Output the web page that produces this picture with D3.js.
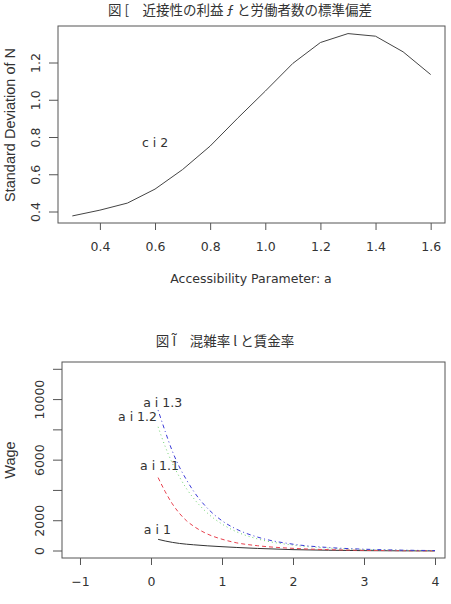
<!DOCTYPE html>
<html><head><meta charset="utf-8">
<script src="https://cdn.jsdelivr.net/npm/d3@7"></script>
<style>body{margin:0;background:#fff}svg{display:block}text{fill:#333}</style>
</head><body>
<script>
// ---- Figure I data ----
const accessA = [0.3,0.4,0.5,0.6,0.7,0.8,0.9,1.0,1.1,1.2,1.3,1.4,1.5,1.6];
const sdN     = [0.379,0.41,0.448,0.523,0.628,0.754,0.904,1.049,1.198,1.31,1.358,1.344,1.26,1.138];
const sdTicks = [0.4,0.6,0.8,1.0,1.2];
const accTicks = [0.4,0.6,0.8,1.0,1.2,1.4,1.6];
const title1 = "図 [　近接性の利益 ƒ と労働者数の標準偏差";
const note1 = {text:"c i 2", x:0.6, y:0.77};

// ---- Figure II data ----
const congestion = [0.1,0.2,0.3,0.4,0.5,0.6,0.8,1.0,1.2,1.5,2.0,2.5,3.0,3.5,4.0];
const wageA10 = [770,660,570,500,450,410,340,285,235,170,90,50,25,12,6];
const wageA11 = [4850,3920,3120,2490,2000,1640,1110,780,545,350,175,90,45,22,11];
const wageA12 = [8200,6900,5800,4900,4120,3480,2480,1780,1280,800,390,195,100,50,25];
const wageA13 = [9300,7900,6600,5550,4700,3950,2800,2000,1450,920,450,230,120,60,30];
const seriesNames = ["a i 1","a i 1.1","a i 1.2","a i 1.3"];
const labelX = [0.09,0.12,-0.19,0.165];
const labelY = [1387,5548,8784,9774];
const wageTicks = [0,2000,4000,6000,8000,10000,12000];
const wageLabels = [0,2000,6000,10000];
const congTicks = [-1,0,1,2,3,4];
const title2 = "図 Ĩ　混雑率 l と賃金率";

const W=451,H=604;
const svg=d3.select("body").append("svg").attr("width",W).attr("height",H);
const font="DejaVu Sans, sans-serif";
const sans="Liberation Sans, Arial, sans-serif";
const cjk="'Noto Sans CJK JP', sans-serif";
const axisCol="#555";

// ===== Plot 1 =====
const x1=d3.scaleLinear().domain([0.248,1.652]).range([58,445]);
const y1=d3.scaleLinear().domain([0.341,1.3987]).range([223,26]);
const g1=svg.append("g");
g1.append("rect").attr("x",58).attr("y",26).attr("width",387).attr("height",197)
  .attr("fill","none").attr("stroke",axisCol).attr("stroke-width",1);
const xa1=g1.append("g").attr("transform","translate(0,223)")
  .call(d3.axisBottom(x1).tickValues(accTicks).tickFormat(d3.format(".1f")).tickSize(7).tickPadding(12));
const ya1=g1.append("g").attr("transform","translate(58,0)")
  .call(d3.axisLeft(y1).tickValues(sdTicks).tickFormat(d3.format(".1f")).tickSize(9).tickPadding(0));
[xa1,ya1].forEach(a=>{a.select(".domain").remove();a.selectAll("line").attr("stroke",axisCol);
  a.selectAll("text").attr("font-family",font).attr("font-size",12.5).attr("fill","#333");});
ya1.selectAll(".tick").attr("transform",null);
ya1.selectAll(".tick line").attr("transform",d=>`translate(0,${y1(d)})`);
ya1.selectAll(".tick text").attr("text-anchor","middle").attr("x",0).attr("y",0).attr("dy",0)
  .attr("dominant-baseline","middle").attr("transform",d=>`translate(-22,${y1(d)}) rotate(-90)`);
g1.append("path").datum(accessA.map((a,i)=>[a,sdN[i]]))
  .attr("d",d3.line().x(d=>x1(d[0])).y(d=>y1(d[1])))
  .attr("fill","none").attr("stroke","#444").attr("stroke-width",1);
g1.append("text").attr("x",x1(note1.x)).attr("y",y1(note1.y)).attr("text-anchor","middle")
  .attr("dominant-baseline","middle").attr("font-family",font).attr("font-size",12.5).text(note1.text);
g1.append("text").attr("x",251).attr("y",283).attr("text-anchor","middle")
  .attr("font-family",font).attr("font-size",12.5).text("Accessibility Parameter: a");
g1.append("text").attr("transform","translate(15,125) rotate(-90)").attr("text-anchor","middle")
  .attr("font-family",sans).attr("font-size",14.5).text("Standard Deviation of N");
g1.append("text").attr("x",240).attr("y",15).attr("text-anchor","middle")
  .attr("font-family",cjk).attr("font-size",13.5).text(title1);

// ===== Plot 2 =====
const x2=d3.scaleLinear().domain([-1.2535,4.1408]).range([62,445]);
const y2=d3.scaleLinear().domain([-462,12482]).range([558,362]);
const g2=svg.append("g");
g2.append("rect").attr("x",62).attr("y",362).attr("width",383).attr("height",196)
  .attr("fill","none").attr("stroke",axisCol).attr("stroke-width",1);
const xa2=g2.append("g").attr("transform","translate(0,558)")
  .call(d3.axisBottom(x2).tickValues(congTicks).tickFormat(d=>d<0?"\u2212"+Math.abs(d):d).tickSize(7).tickPadding(12));
const ya2=g2.append("g").attr("transform","translate(62,0)")
  .call(d3.axisLeft(y2).tickValues(wageTicks).tickFormat(d=>wageLabels.includes(d)?d:"").tickSize(9).tickPadding(0));
[xa2,ya2].forEach(a=>{a.select(".domain").remove();a.selectAll("line").attr("stroke",axisCol);
  a.selectAll("text").attr("font-family",font).attr("font-size",12.5).attr("fill","#333");});
ya2.selectAll(".tick").attr("transform",null);
ya2.selectAll(".tick line").attr("transform",d=>`translate(0,${y2(d)})`);
ya2.selectAll(".tick text").attr("text-anchor","middle").attr("x",0).attr("y",0).attr("dy",0)
  .attr("dominant-baseline","middle").attr("transform",d=>`translate(-22,${y2(d)}) rotate(-90)`);

const series=[wageA10,wageA11,wageA12,wageA13];
const colors=["#333","#e8414e","#6fd36f","#3b3bd8"];
const dashes=[null,"4,3","1,3","1,3,4,3"];
const line2=d3.line().x(d=>x2(d[0])).y(d=>y2(d[1])).curve(d3.curveMonotoneX);
series.forEach((s,i)=>{
  g2.append("path").datum(congestion.map((c,j)=>[c,s[j]])).attr("d",line2)
    .attr("fill","none").attr("stroke",colors[i]).attr("stroke-width",1)
    .attr("stroke-dasharray",dashes[i]);
  g2.append("text").attr("x",x2(labelX[i])).attr("y",y2(labelY[i])).attr("text-anchor","middle")
    .attr("dominant-baseline","middle").attr("font-family",font).attr("font-size",12.5).text(seriesNames[i]);
});
g2.append("text").attr("transform","translate(15,460) rotate(-90)").attr("text-anchor","middle")
  .attr("font-family",sans).attr("font-size",14.5).text("Wage");
g2.append("text").attr("x",225).attr("y",346).attr("text-anchor","middle")
  .attr("font-family",cjk).attr("font-size",13.5).text(title2);
</script>
</body></html>
